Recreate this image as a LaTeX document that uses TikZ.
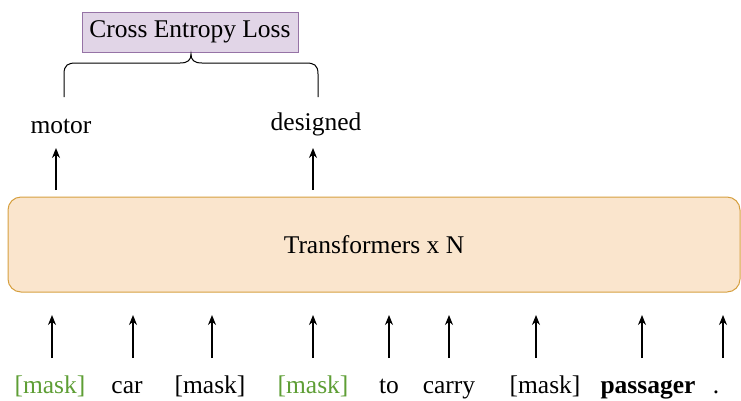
\documentclass[tikz,border=0pt]{standalone}
\usepackage{fontspec}
\setmainfont{Liberation Serif}
\usetikzlibrary{arrows.meta}
\definecolor{lossfill}{HTML}{E1D5E7}
\definecolor{lossdraw}{HTML}{9673A6}
\definecolor{tffill}{HTML}{FAE5CD}
\definecolor{tfdraw}{HTML}{D6A040}
\definecolor{maskgreen}{HTML}{5E9E35}
\tikzset{
  txt/.style={inner sep=0pt, font=\fontsize{25.5}{28}\selectfont, anchor=base},
  arr/.style={line width=1.2pt, -{Stealth[length=10pt,width=8pt]}},
}
\begin{document}
\begin{tikzpicture}[x=1pt,y=-1pt]
\useasboundingbox (0,0) rectangle (741,400);
% loss box
\node[draw=lossdraw, fill=lossfill, line width=1pt, minimum width=216pt, minimum height=40pt, inner sep=0pt,
  font=\fontsize{25.5}{28}\selectfont] (loss) at (190,32) {Cross Entropy Loss};
% brace
\draw[line width=1pt] (64,97) -- (64,74) .. controls (64,65) and (68,63) .. (76,63)
  -- (180,63) .. controls (188,63) and (191,60) .. (191,54)
  .. controls (191,60) and (194,63) .. (202,63) -- (306,63)
  .. controls (314,63) and (318,65) .. (318,74) -- (318,97);
% outputs
\node[txt] (motor) at (61,133) {motor};
\node[txt] (designed) at (316,130) {designed};
% transformer
\node[draw=tfdraw, fill=tffill, line width=1pt, rounded corners=13pt, minimum width=732pt, minimum height=95pt,
  font=\fontsize{25.5}{28}\selectfont] (tf) at (374,244.5) {Transformers x N};
\coordinate (m1) at (56,190);
\coordinate (m2) at (56,148);
\coordinate (d1) at (313,190);
\coordinate (d2) at (313,148);
\draw[arr] (m1) -- (m2);
\draw[arr] (d1) -- (d2);
% tokens
\node[txt, text=maskgreen] (t1) at (50,393) {[mask]};
\node[txt] (t2) at (127,393) {car};
\node[txt] (t3) at (210,393) {[mask]};
\node[txt, text=maskgreen] (t4) at (313,393) {[mask]};
\node[txt] (t5) at (389,393) {to};
\node[txt] (t6) at (449,393) {carry};
\node[txt] (t7) at (545,393) {[mask]};
\node[txt, font=\fontsize{25.5}{28}\selectfont\bfseries] (t8) at (648,393) {passager};
\node[txt] (t9) at (716,393) {.};
\foreach \x/\n in {52/a1,133/a2,212/a3,313/a4,389/a5,449/a6,536/a7,642/a8,723/a9}{
  \coordinate (\n s) at (\x,358);
  \coordinate (\n e) at (\x,315);
  \draw[arr] (\n s) -- (\n e);
}
\end{tikzpicture}
\end{document}
